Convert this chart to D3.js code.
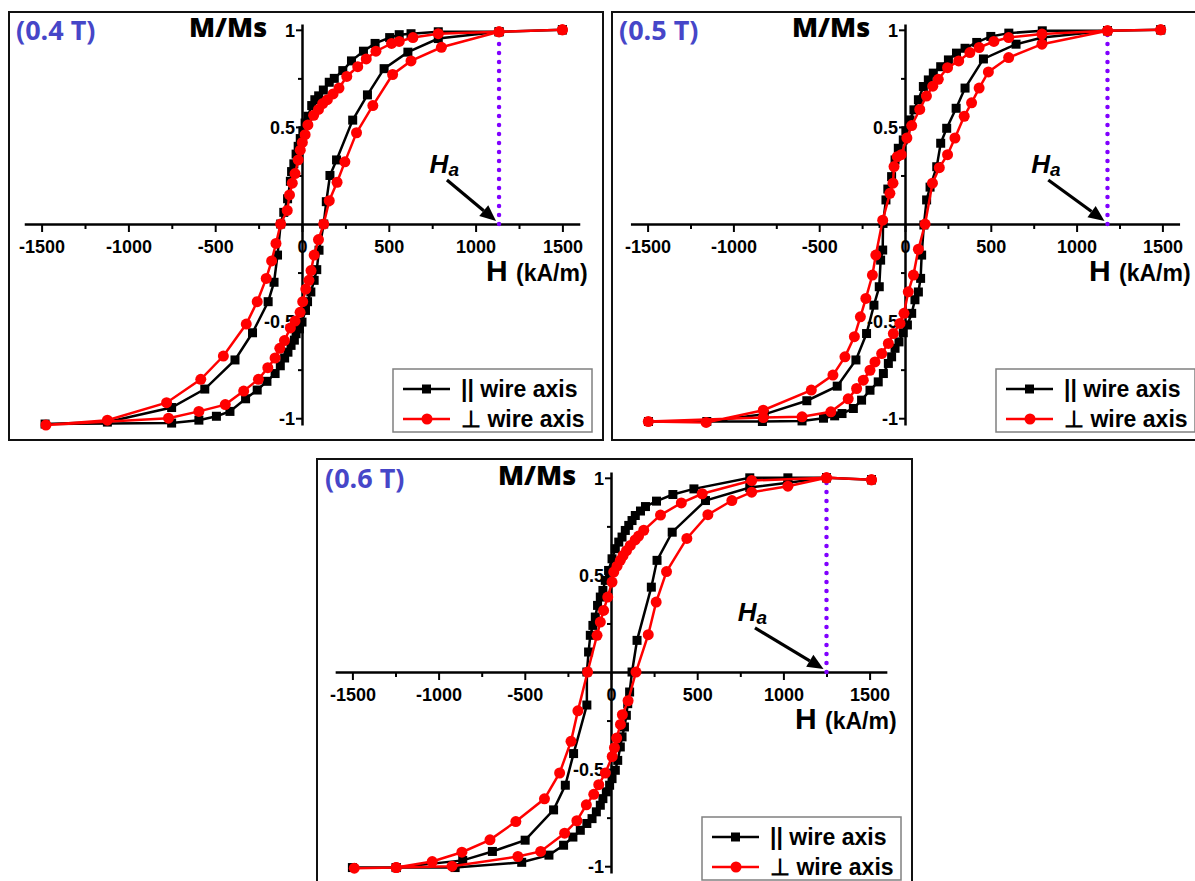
<!DOCTYPE html>
<html><head><meta charset="utf-8">
<script src="https://cdn.jsdelivr.net/npm/d3@7"></script>
<style>body{margin:0;background:#fff} svg{display:block}</style>
</head><body>
<svg id="c" width="1195" height="881"></svg>
<script>
// ---------- tick labels / categories ----------
const hTicks = [-1500, -1000, -500, 0, 500, 1000, 1500];
const hMinor = [-1250, -750, -250, 250, 750, 1250];
const mTicks = [-1, -0.5, 0.5, 1];
const mMinor = [-0.75, -0.25, 0.25, 0.75];
const panelLabels = ["(0.4 T)", "(0.5 T)", "(0.6 T)"];
const seriesNames = ["|| wire axis", "\u22A5 wire axis"];
const haValues = [1135, 1180, 1250];

// ---------- 0.4 T ----------
const p04ParH = [1500,1135,785,628,560,505,421,354,285,235,186,157,123,96,74,56,34,18,5,-10,-22,-34,-47,-60,-67,-83,-105,-123,-141,-161,-195,-285,-386,-560,-751,-1121,-1480,
  -751,-594,-493,-415,-325,-258,-202,-155,-125,-100,-81,-63,-44,-34,-15,0,20,32,51,70,85,98,125,140,161,199,292,377,473,610,785,1135,1500];
const p04ParM = [1.0,0.99,0.99,0.98,0.975,0.96,0.93,0.89,0.84,0.79,0.75,0.73,0.69,0.66,0.64,0.61,0.555,0.52,0.48,0.44,0.40,0.36,0.31,0.27,0.22,0.13,0.06,0.0,-0.16,-0.30,-0.40,-0.56,-0.70,-0.85,-0.945,-1.02,-1.03,
  -1.025,-1.01,-0.99,-0.965,-0.90,-0.855,-0.81,-0.77,-0.73,-0.69,-0.66,-0.625,-0.598,-0.565,-0.54,-0.505,-0.445,-0.40,-0.35,-0.29,-0.235,-0.135,0.0,0.115,0.25,0.33,0.535,0.665,0.80,0.885,0.955,0.99,1.0];
const p04PerpH = [1500,1135,785,639,560,516,426,370,321,258,213,179,146,119,95,67,34,18,2,-10,-22,-40,-56,-72,-85,-123,-150,-175,-206,-258,-321,-453,-583,-780,-1121,-1475,
  -769,-594,-442,-336,-251,-197,-155,-128,-101,-67,-40,-11,4,22,40,52,70,95,125,157,202,247,314,408,522,628,803,1135,1500];
const p04PerpM = [1.0,0.99,0.98,0.96,0.94,0.93,0.89,0.85,0.81,0.76,0.70,0.67,0.64,0.62,0.59,0.56,0.51,0.46,0.42,0.38,0.33,0.26,0.21,0.15,0.07,0.0,-0.10,-0.19,-0.28,-0.40,-0.515,-0.68,-0.80,-0.92,-1.01,-1.035,
  -1.0,-0.965,-0.93,-0.86,-0.80,-0.74,-0.69,-0.64,-0.60,-0.535,-0.50,-0.455,-0.40,-0.335,-0.29,-0.24,-0.16,-0.08,0.0,0.12,0.215,0.32,0.47,0.61,0.77,0.84,0.91,0.99,1.0];

// ---------- 0.5 T ----------
const p05ParH = [1490,1180,800,605,500,418,350,300,253,208,165,136,107,78,52,29,5,-10,-39,-58,-78,-100,-111,-128,-130,-142,-150,-181,-224,-286,-395,-572,-820,-1155,-1495,
  -831,-600,-475,-410,-367,-301,-253,-204,-156,-126,-97,-78,-58,-35,-10,14,39,58,78,91,97,110,126,146,185,208,243,298,350,457,647,800,1180,1490];
const p05ParM = [1.0,0.995,0.995,0.983,0.966,0.935,0.905,0.88,0.845,0.81,0.777,0.742,0.708,0.64,0.588,0.536,0.48,0.433,0.39,0.33,0.244,0.18,0.124,0.003,-0.134,-0.186,-0.323,-0.418,-0.564,-0.70,-0.835,-0.91,-0.98,-1.017,-1.017,
  -1.017,-1.014,-1.0,-0.988,-0.976,-0.95,-0.907,-0.856,-0.813,-0.77,-0.718,-0.684,-0.64,-0.607,-0.56,-0.52,-0.46,-0.39,-0.35,-0.28,-0.16,-0.005,0.124,0.19,0.295,0.416,0.493,0.596,0.70,0.85,0.926,0.96,0.995,1.0];
const p05PerpH = [1490,1180,798,604,518,432,378,313,248,194,162,125,86,39,11,-22,-45,-64,-70,-88,-130,-170,-190,-228,-260,-295,-350,-420,-546,-826,-1159,-1496,
  -826,-600,-432,-331,-282,-243,-204,-175,-136,-97,-68,-29,-6,19,49,78,117,160,200,248,291,345,388,432,486,604,798,1180,1490];
const p05PerpM = [1.0,0.995,0.978,0.96,0.94,0.909,0.883,0.84,0.805,0.745,0.71,0.659,0.59,0.507,0.443,0.357,0.347,0.296,0.21,0.158,0.02,-0.16,-0.263,-0.383,-0.478,-0.58,-0.684,-0.778,-0.855,-0.959,-1.022,-1.017,
  -0.997,-0.993,-0.967,-0.90,-0.847,-0.804,-0.753,-0.71,-0.667,-0.615,-0.564,-0.512,-0.46,-0.349,-0.263,-0.13,0.0,0.21,0.29,0.357,0.443,0.555,0.624,0.70,0.783,0.857,0.926,0.995,1.0];

// ---------- 0.6 T ----------
const p06ParH = [1511,1250,1026,805,481,359,264,200,171,141,122,103,83,64,45,25,6,-14,-33,-47,-62,-78,-91,-105,-120,-130,-140,-140,-217,-265,-333,-498,-688,-860,-1246,-1500,
  -1246,-904,-518,-360,-275,-221,-178,-140,-110,-85,-62,-47,-27,-8,6,25,39,54,64,78,89,97,108,122,151,234,267,355,548,805,1026,1250,1511];
const p06ParM = [0.99,1.0,1.0,1.0,0.943,0.914,0.88,0.852,0.829,0.806,0.78,0.755,0.729,0.695,0.669,0.635,0.583,0.523,0.472,0.42,0.386,0.343,0.283,0.24,0.189,0.103,0.0,-0.17,-0.42,-0.583,-0.71,-0.866,-0.924,-0.97,-1.007,-1.007,
  -1.007,-1.007,-0.98,-0.943,-0.892,-0.85,-0.815,-0.78,-0.755,-0.72,-0.686,-0.652,-0.617,-0.583,-0.549,-0.506,-0.455,-0.386,-0.334,-0.283,-0.223,-0.163,-0.103,0.0,0.163,0.437,0.575,0.72,0.883,0.95,0.975,1.0,0.99];
const p06PerpH = [1511,1250,816,529,408,287,190,160,140,112,90,70,54,35,16,6,-19,-43,-62,-81,-136,-192,-232,-298,-386,-552,-702,-865,-1037,-1246,-1489,
  -1246,-922,-540,-408,-269,-198,-143,-100,-71,-33,7,20,33,55,66,99,145,216,262,322,440,562,701,816,1026,1250,1511];
const p06PerpM = [0.99,1.0,0.986,0.918,0.871,0.808,0.73,0.70,0.68,0.652,0.625,0.60,0.575,0.545,0.515,0.463,0.386,0.317,0.257,0.189,0.0,-0.2,-0.357,-0.52,-0.653,-0.77,-0.864,-0.928,-0.976,-1.007,-1.01,
  -1.007,-1.0,-0.95,-0.924,-0.83,-0.766,-0.684,-0.63,-0.58,-0.52,-0.435,-0.39,-0.34,-0.27,-0.22,-0.148,0.0,0.192,0.36,0.517,0.688,0.81,0.883,0.926,0.957,1.0,0.99];

const parH = [p04ParH, p05ParH, p06ParH];
const parM = [p04ParM, p05ParM, p06ParM];
const perpH = [p04PerpH, p05PerpH, p06PerpH];
const perpM = [p04PerpM, p05PerpM, p06PerpM];

// ---------- layout ----------
const layouts = [
  {ox: 302, oy: 224, k: 86.8, fx: 9,   fy: 12,  fw: 594, fh: 428},
  {ox: 905, oy: 224, k: 85.8, fx: 612, fy: 12,  fw: 600, fh: 428},
  {ox: 611, oy: 672, k: 86.2, fx: 317, fy: 459, fw: 595, fh: 440}
];
const TICK_FONT = "'Liberation Sans', Arial, sans-serif";
const svg = d3.select("#c");
svg.append("rect").attr("width", 1195).attr("height", 881).attr("fill", "#fff");

layouts.forEach((L, i) => {
  const g = svg.append("g");
  const half = 1600 * L.k / 500;
  const x = d3.scaleLinear().domain([-1600, 1600]).range([L.ox - half, L.ox + half]);
  const y = d3.scaleLinear().domain([-1.035, 1.03]).range([L.oy + 201, L.oy - 200]);

  // frame
  g.append("rect").attr("x", L.fx).attr("y", L.fy).attr("width", L.fw).attr("height", L.fh)
    .attr("fill", "#fff").attr("stroke", "#111").attr("stroke-width", 2);

  // axes
  const xa = g.append("g").attr("transform", `translate(0,${L.oy})`)
    .call(d3.axisBottom(x).tickValues(hTicks).tickSize(8).tickSizeOuter(0).tickPadding(8).tickFormat(d => String(d)));
  const xm = g.append("g").attr("transform", `translate(0,${L.oy})`)
    .call(d3.axisBottom(x).tickValues(hMinor).tickSize(5).tickSizeOuter(0).tickFormat(""));
  xm.select(".domain").remove();
  const ya = g.append("g").attr("transform", `translate(${L.ox},0)`)
    .call(d3.axisLeft(y).tickValues(mTicks).tickSize(6).tickSizeOuter(0).tickPadding(1).tickFormat(d => String(d)));
  const ym = g.append("g").attr("transform", `translate(${L.ox},0)`)
    .call(d3.axisLeft(y).tickValues(mMinor).tickSize(4).tickSizeOuter(0).tickFormat(""));
  ym.select(".domain").remove();
  [xa, xm, ya, ym].forEach(a => {
    a.selectAll(".domain").attr("stroke", "#000").attr("stroke-width", 2.5);
    a.selectAll(".tick line").attr("stroke", "#000").attr("stroke-width", 2);
    a.selectAll("text").attr("font-family", TICK_FONT).attr("font-weight", "bold")
      .attr("font-size", 18).attr("fill", "#000");
  });
  ya.selectAll("text").attr("dy", "0.36em");

  // axis titles
  g.append("text").attr("x", L.ox - 113).attr("y", L.oy - 187)
    .attr("font-family", "'Open Sans', sans-serif").attr("font-weight", "800").attr("font-size", 27)
    .text("M/Ms");
  const ht = g.append("text").attr("x", L.ox + 184).attr("y", L.oy + 57)
    .attr("font-family", TICK_FONT).attr("font-weight", "bold");
  ht.append("tspan").attr("font-size", 30).text("H ");
  ht.append("tspan").attr("font-size", 23).text("(kA/m)");

  // panel label
  g.append("text").attr("x", L.ox - 286).attr("y", L.oy - 184)
    .attr("font-family", "'Open Sans', sans-serif").attr("font-weight", "bold").attr("font-size", 27)
    .attr("fill", "#4646c8").text(panelLabels[i]);

  // Ha dotted line + annotation
  const xh = x(haValues[i]);
  g.append("line").attr("x1", xh).attr("x2", xh).attr("y1", y(0)).attr("y2", y(1))
    .attr("stroke", "#8000ff").attr("stroke-width", 4.5).attr("stroke-linecap", "round")
    .attr("stroke-dasharray", "0 9");
  const hat = g.append("text").attr("x", x(735)).attr("y", y(0.263))
    .attr("font-family", TICK_FONT).attr("font-weight", "bold").attr("font-style", "italic");
  hat.append("tspan").attr("font-size", 26).text("H");
  hat.append("tspan").attr("font-size", 19).attr("dy", 3).text("a");
  const ax0 = x(835), ay0 = y(0.227), ax1 = xh - 3, ay1 = L.oy - 3;
  const ang = Math.atan2(ay1 - ay0, ax1 - ax0);
  const hl = 16, hw = 7;
  const bx = ax1 - hl * Math.cos(ang), by = ay1 - hl * Math.sin(ang);
  g.append("line").attr("x1", ax0).attr("y1", ay0).attr("x2", bx).attr("y2", by)
    .attr("stroke", "#000").attr("stroke-width", 3.2);
  g.append("path").attr("fill", "#000").attr("d",
    `M${ax1},${ay1}L${bx + hw * Math.sin(ang)},${by - hw * Math.cos(ang)}L${bx - hw * Math.sin(ang)},${by + hw * Math.cos(ang)}Z`);

  // series
  const line = d3.line().x(d => x(d[0])).y(d => y(d[1]));
  const par = d3.zip(parH[i], parM[i]);
  const perp = d3.zip(perpH[i], perpM[i]);
  g.append("path").datum(par).attr("d", line).attr("fill", "none").attr("stroke", "#000").attr("stroke-width", 2.5);
  g.selectAll(".sq" + i).data(par).join("rect")
    .attr("x", d => x(d[0]) - 4.5).attr("y", d => y(d[1]) - 4.5).attr("width", 9).attr("height", 9).attr("fill", "#000");
  g.append("path").datum(perp).attr("d", line).attr("fill", "none").attr("stroke", "#ff0000").attr("stroke-width", 2.5);
  g.selectAll(".ci" + i).data(perp).join("circle")
    .attr("cx", d => x(d[0])).attr("cy", d => y(d[1])).attr("r", 5.5).attr("fill", "#ff0000");

  // legend
  const lx = L.ox + 91, ly = L.oy + 145;
  const lg = g.append("g");
  lg.append("rect").attr("x", lx).attr("y", ly).attr("width", 199).attr("height", 63)
    .attr("fill", "#fff").attr("stroke", "#808080").attr("stroke-width", 1.5);
  const cols = ["#000", "#ff0000"];
  [0, 1].forEach(j => {
    const yy = ly + 20 + j * 30;
    lg.append("line").attr("x1", lx + 10).attr("x2", lx + 57).attr("y1", yy).attr("y2", yy)
      .attr("stroke", cols[j]).attr("stroke-width", 2.5);
    if (j === 0) lg.append("rect").attr("x", lx + 29).attr("y", yy - 4.5).attr("width", 9).attr("height", 9).attr("fill", "#000");
    else lg.append("circle").attr("cx", lx + 34).attr("cy", yy).attr("r", 5.5).attr("fill", "#ff0000");
    lg.append("text").attr("x", lx + 68).attr("y", yy + 8)
      .attr("font-family", TICK_FONT).attr("font-weight", "bold").attr("font-size", 23)
      .text(seriesNames[j]);
  });
});
</script>
</body></html>
